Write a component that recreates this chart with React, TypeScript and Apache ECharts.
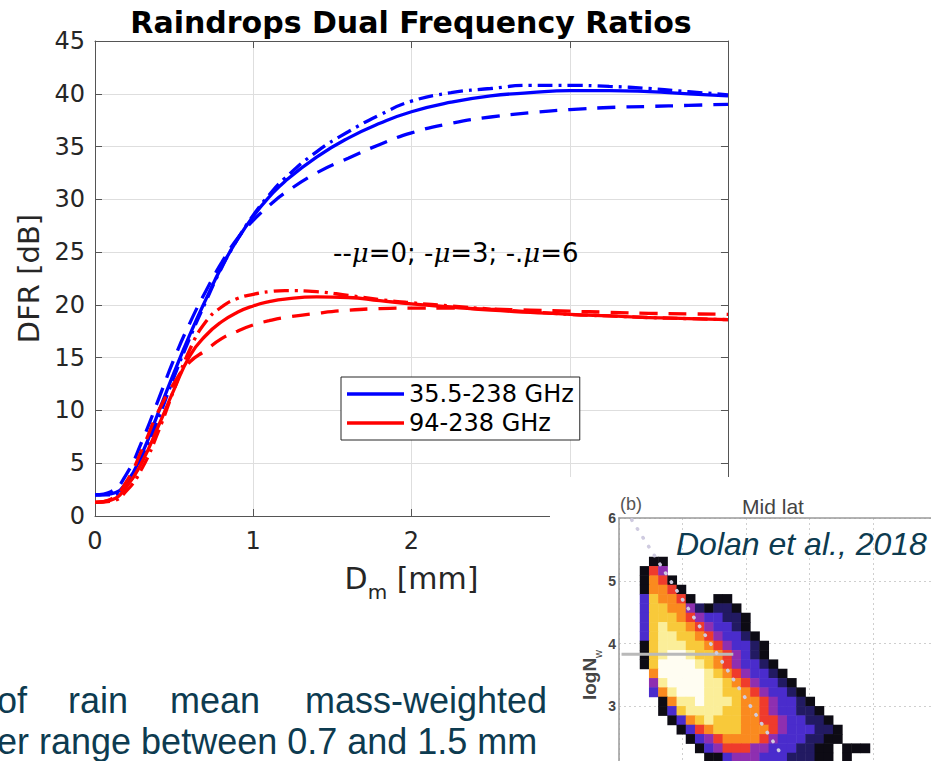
import React, { useEffect, useRef } from "react";
import * as echarts from "echarts";

// ---------- main chart data ----------
const dm = [0, 0.1, 0.2, 0.3, 0.4, 0.5, 0.6, 0.7, 0.8, 0.9, 1.0, 1.1, 1.2, 1.4, 1.6, 1.8, 2.0, 2.25, 2.5, 2.75, 3.0, 3.25, 3.5, 3.75, 4.0];

const blueMu0 = [2.0, 2.3, 4.0, 7.2, 11.0, 14.9, 18.3, 21.3, 24.0, 26.3, 28.0, 29.4, 30.6, 32.5, 33.9, 35.2, 36.3, 37.2, 37.8, 38.2, 38.5, 38.7, 38.8, 38.9, 39.0];
const blueMu3 = [2.0, 2.1, 3.2, 6.0, 9.8, 13.6, 17.2, 20.5, 23.6, 26.2, 28.4, 30.2, 31.7, 34.0, 35.8, 37.2, 38.3, 39.2, 39.8, 40.1, 40.3, 40.3, 40.2, 40.0, 39.8];
const blueMu6 = [2.0, 2.0, 2.9, 5.5, 9.2, 13.2, 16.9, 20.3, 23.5, 26.2, 28.5, 30.4, 32.0, 34.5, 36.4, 38.0, 39.3, 40.1, 40.5, 40.8, 40.8, 40.7, 40.5, 40.2, 39.9];

const redMu0 = [1.3, 1.6, 3.3, 6.4, 9.9, 12.6, 14.6, 15.7, 16.8, 17.5, 18.1, 18.5, 18.8, 19.2, 19.5, 19.65, 19.7, 19.7, 19.6, 19.5, 19.4, 19.3, 19.2, 19.15, 19.1];
const redMu3 = [1.3, 1.5, 2.8, 5.2, 8.5, 12.0, 15.2, 17.1, 18.4, 19.3, 19.9, 20.3, 20.55, 20.75, 20.7, 20.4, 20.1, 19.8, 19.5, 19.3, 19.1, 18.95, 18.8, 18.7, 18.6];
const redMu6 = [1.3, 1.4, 2.4, 4.6, 8.0, 12.0, 15.8, 18.4, 19.8, 20.6, 21.0, 21.25, 21.35, 21.25, 20.9, 20.5, 20.2, 19.9, 19.6, 19.35, 19.1, 18.95, 18.8, 18.7, 18.6];

const legendNames = ["35.5-238 GHz", "94-238 GHz"];
const xRange = [0, 4];
const yRange = [0, 45];
const lastVisibleXLabel = 2;

// ---------- inset (Dolan et al., 2018) data ----------
// colour level of every heatmap cell, row by row (0 = empty)
const heatRows = [
  "011",
  "154",
  "1651",
  "16651",
  "3766510011",
  "37766421221",
  "377765433221",
  "378776543321",
  "3788776543321",
  "17888776543321",
  "17899877654321",
  "179999876543321",
  "0699999876543321",
  "04899998876543321",
  "036899988776543321",
  "0016889888766543321",
  "00137888877665433221",
  "000136787776655433221",
  "0000135677766654333221",
  "0000013456666543332211",
  "0000001345554433322110111",
  "0000000113444333222110100",
];
const heatColors = ["#0d0b14", "#221a62", "#4a2ccc", "#8e2fb0", "#ef3b2c", "#fa8a1f", "#f8c93a", "#fbee99", "#fffdf2"];
const insetYTicks = [1, 6];
const insetFirstShownTick = 3;
const insetXTicks = [0, 2.5];
const insetDots = [[0.1, 5.97], [1.27, 2.26]];
const insetRefLine = [[0.02, 3.83], [0.9, 3.83]];

const bottomLine1 = ["of", "rain", "mean", "mass-weighted"];
const bottomLine2 = "er range between 0.7 and 1.5 mm";

const pair = (ys: number[]) => dm.map((d, i) => [d, ys[i]]);

function buildOption() {
  const nCols = 25;
  const heatData: number[][] = [];
  heatRows.forEach((row, r) => {
    row.padEnd(nCols, "0").split("").forEach((ch, c) => {
      const v = Number(ch);
      if (v > 0) heatData.push([c, r, v]);
    });
  });

  const lineSeries = (name: string, ys: number[], color: string, type: any) => ({
    type: "line",
    name,
    xAxisIndex: 0,
    yAxisIndex: 0,
    data: pair(ys),
    symbol: "none",
    showSymbol: false,
    smooth: 0.5,
    lineStyle: { color, width: 3.3, type },
    itemStyle: { color },
    z: 2,
  });

  const dash = [18, 11];
  const dashDot = [15, 6, 3, 6];
  const tickFont = { fontFamily: "DejaVu Sans", fontSize: 24, color: "#262626" };

  const textTeal = "#0d3b50";
  const wordX = [-3, 68, 170, 305];

  return {
    animation: false,
    backgroundColor: "#ffffff",
    textStyle: { fontFamily: "DejaVu Sans" },
    title: {
      text: "Raindrops Dual Frequency Ratios",
      left: 406,
      top: 2,
      textAlign: "center",
      textStyle: { fontSize: 30, fontWeight: "bold", color: "#000", fontFamily: "DejaVu Sans" },
    },
    legend: {
      data: legendNames,
      orient: "vertical",
      left: 341,
      top: 377,
      backgroundColor: "#ffffff",
      borderColor: "#262626",
      borderWidth: 1,
      borderRadius: 0,
      padding: [5, 6, 5, 6],
      icon: "rect",
      itemWidth: 57,
      itemHeight: 3.5,
      itemGap: 5,
      selectedMode: false,
      textStyle: { fontSize: 24, color: "#000", fontFamily: "DejaVu Sans", lineHeight: 24 },
    },
    grid: [
      { left: 95, top: 41, width: 633, height: 475, outerBoundsMode: "none" },
      { left: 640, top: 557, width: 230, height: 205.3, outerBoundsMode: "none" },
      { left: 619, top: 518, width: 317.5, height: 314, outerBoundsMode: "none" },
    ],
    xAxis: [
      {
        gridIndex: 0,
        type: "value",
        min: xRange[0],
        max: xRange[1],
        interval: 1,
        position: "bottom",
        axisLine: { show: true, onZero: false, lineStyle: { color: "#555", width: 1 } },
        axisTick: { show: true, inside: true, length: 7, lineStyle: { color: "#555" } },
        axisLabel: { ...tickFont, margin: 13, formatter: (v: number) => (v <= lastVisibleXLabel ? String(v) : "") },
        splitLine: { show: true, lineStyle: { color: "#dedede", width: 1 } },
        name: "{d|D}{s|m}{d| [mm]}",
        nameLocation: "middle",
        nameGap: 56,
        nameTextStyle: {
          color: "#262626",
          rich: {
            d: { fontSize: 30, lineHeight: 30, padding: [0, 0, 9, 0], verticalAlign: "bottom", fontFamily: "DejaVu Sans", color: "#262626" },
            s: { fontSize: 20, lineHeight: 20, verticalAlign: "bottom", fontFamily: "DejaVu Sans", color: "#262626" },
          },
        },
      },
      {
        gridIndex: 0,
        type: "value",
        min: xRange[0],
        max: xRange[1],
        interval: 1,
        position: "top",
        axisLine: { show: true, onZero: false, lineStyle: { color: "#555", width: 1 } },
        axisTick: { show: true, inside: true, length: 7, lineStyle: { color: "#555" } },
        axisLabel: { show: false },
        splitLine: { show: false },
      },
      {
        gridIndex: 1,
        type: "category",
        data: Array.from({ length: nCols }, (_, i) => String(i)),
        show: false,
      },
      {
        gridIndex: 2,
        type: "value",
        min: insetXTicks[0],
        max: insetXTicks[1],
        interval: 0.5,
        position: "top",
        z: 105,
        axisLine: { show: true, onZero: false, lineStyle: { color: "#9a9a9a", width: 1.5 } },
        axisTick: { show: false },
        axisLabel: { show: false },
        splitLine: { show: true, lineStyle: { color: "#cfcfcf", type: [2, 3], width: 1 } },
      },
    ],
    yAxis: [
      {
        gridIndex: 0,
        type: "value",
        min: yRange[0],
        max: yRange[1],
        interval: 5,
        position: "left",
        axisLine: { show: true, onZero: false, lineStyle: { color: "#555", width: 1 } },
        axisTick: { show: true, inside: true, length: 7, lineStyle: { color: "#555" } },
        axisLabel: { ...tickFont, margin: 10 },
        splitLine: { show: true, lineStyle: { color: "#dedede", width: 1 } },
        name: "DFR [dB]",
        nameLocation: "middle",
        nameRotate: 90,
        nameGap: 52,
        nameTextStyle: { fontSize: 29, color: "#262626", fontFamily: "DejaVu Sans" },
      },
      {
        gridIndex: 0,
        type: "value",
        min: yRange[0],
        max: yRange[1],
        interval: 5,
        position: "right",
        axisLine: { show: true, onZero: false, lineStyle: { color: "#555", width: 1 } },
        axisTick: { show: true, inside: true, length: 7, lineStyle: { color: "#555" } },
        axisLabel: { show: false },
        splitLine: { show: false },
      },
      {
        gridIndex: 1,
        type: "category",
        inverse: true,
        data: heatRows.map((_, i) => String(i)),
        show: false,
      },
      {
        gridIndex: 2,
        type: "value",
        min: insetYTicks[0],
        max: insetYTicks[1],
        interval: 1,
        position: "left",
        z: 105,
        axisLine: { show: true, onZero: false, lineStyle: { color: "#9a9a9a", width: 1.5 } },
        axisTick: { show: false },
        axisLabel: {
          fontSize: 14,
          color: "#444",
          margin: 3,
          fontFamily: "Liberation Sans",
          fontWeight: "bold",
          formatter: (v: number) => (v >= insetFirstShownTick ? String(v) : ""),
        },
        splitLine: { show: true, lineStyle: { color: "#cfcfcf", type: [2, 3], width: 1 } },
        name: "{a|logN}{b|w}",
        nameLocation: "middle",
        nameRotate: 90,
        nameGap: 16,
        nameTextStyle: {
          rich: {
            a: { fontSize: 19, color: "#444", fontFamily: "Liberation Sans", fontWeight: "bold", verticalAlign: "bottom", lineHeight: 19, padding: [0, 0, 4, 0] },
            b: { fontSize: 11, color: "#444", fontFamily: "Liberation Sans", verticalAlign: "bottom", lineHeight: 11 },
          },
        },
      },
    ],
    visualMap: [
      {
        type: "piecewise",
        show: false,
        seriesIndex: 6,
        dimension: 2,
        pieces: heatColors.map((c, i) => ({ value: i + 1, color: c })),
      },
    ],
    series: [
      lineSeries(legendNames[0], blueMu3, "#0000ff", "solid"),
      lineSeries(legendNames[0] + " μ=0", blueMu0, "#0000ff", dash),
      lineSeries(legendNames[0] + " μ=6", blueMu6, "#0000ff", dashDot),
      lineSeries(legendNames[1], redMu3, "#ff0000", "solid"),
      lineSeries(legendNames[1] + " μ=0", redMu0, "#ff0000", dash),
      lineSeries(legendNames[1] + " μ=6", redMu6, "#ff0000", dashDot),
      {
        type: "heatmap",
        name: "Mid lat",
        xAxisIndex: 2,
        yAxisIndex: 2,
        data: heatData,
        z: 110,
        itemStyle: { borderWidth: 0 },
        emphasis: { disabled: true },
        progressive: 0,
      },
      {
        type: "line",
        name: "fit",
        xAxisIndex: 3,
        yAxisIndex: 3,
        data: insetDots,
        symbol: "none",
        z: 120,
        lineStyle: { color: "#cfcbe0", width: 3.5, type: [0.5, 10], cap: "round" },
      },
      {
        type: "line",
        name: "ref",
        xAxisIndex: 3,
        yAxisIndex: 3,
        data: insetRefLine,
        symbol: "none",
        z: 118,
        lineStyle: { color: "#b9b9b9", width: 3 },
      },
    ],
    graphic: [
      {
        type: "text",
        x: 333,
        y: 253,
        z: 10,
        style: {
          text: "--{i|μ}=0; -{i|μ}=3; -.{i|μ}=6",
          fontSize: 26,
          fontFamily: "DejaVu Sans",
          fill: "#000",
          verticalAlign: "middle",
          rich: { i: { fontStyle: "italic", fontSize: 26, fontFamily: "DejaVu Serif", fill: "#000" } },
        },
      },
      {
        type: "rect",
        z: 100,
        shape: { x: 550, y: 477, width: 381, height: 284 },
        style: { fill: "#ffffff" },
      },
      {
        type: "text",
        x: 773,
        y: 506,
        z: 130,
        style: { text: "Mid lat", fontSize: 21, fontFamily: "Liberation Sans", fill: "#444", align: "center", verticalAlign: "middle" },
      },
      {
        type: "text",
        x: 620,
        y: 504,
        z: 130,
        style: { text: "(b)", fontSize: 18, fontFamily: "Liberation Sans", fill: "#555", align: "left", verticalAlign: "middle" },
      },
      {
        type: "text",
        x: 676,
        y: 544,
        z: 130,
        style: { text: "Dolan et al., 2018", fontSize: 32, fontStyle: "italic", fontFamily: "Liberation Sans", fill: textTeal, align: "left", verticalAlign: "middle" },
      },
      ...bottomLine1.map((w, i) => ({
        type: "text",
        x: wordX[i],
        y: 700,
        z: 130,
        style: { text: w, fontSize: 36, fontFamily: "Liberation Sans", fill: textTeal, align: "left", verticalAlign: "middle" },
      })),
      {
        type: "text",
        x: -3,
        y: 741,
        z: 130,
        style: { text: bottomLine2, fontSize: 36, fontFamily: "Liberation Sans", fill: textTeal, align: "left", verticalAlign: "middle" },
      },
    ],
  };
}

export default function App() {
  const ref = useRef<HTMLDivElement>(null);
  useEffect(() => {
    if (!ref.current) return;
    const chart = echarts.init(ref.current, undefined, { renderer: "svg" });
    chart.setOption(buildOption() as any);
    return () => chart.dispose();
  }, []);
  return <div ref={ref} style={{ position: "absolute", left: 0, top: 0, width: 931, height: 761 }} />;
}
